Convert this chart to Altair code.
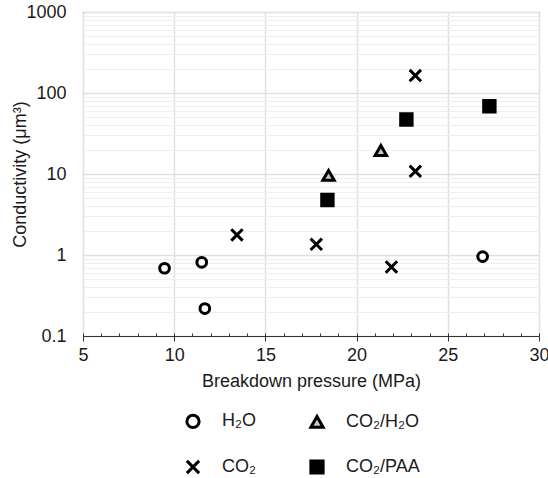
import altair as alt
import pandas as pd

# legend entries fill column by column: H₂O, CO₂ | CO₂/H₂O, CO₂/PAA
groups = ["H₂O", "CO₂", "CO₂/H₂O", "CO₂/PAA"]

h2o_x = [9.47, 11.51, 11.68, 26.91]
h2o_y = [0.686, 0.813, 0.218, 0.955]
co2_x = [13.44, 17.79, 21.91, 23.22, 23.22]
co2_y = [1.77, 1.355, 0.711, 164, 10.8]
co2h2o_x = [18.46, 21.33]
co2h2o_y = [9.6, 19.5]
paa_x = [18.4, 22.73, 27.28]
paa_y = [4.77, 47.1, 68.7]

rows = []
for g, xs, ys in [("H₂O", h2o_x, h2o_y), ("CO₂/H₂O", co2h2o_x, co2h2o_y),
                  ("CO₂", co2_x, co2_y), ("CO₂/PAA", paa_x, paa_y)]:
    for a, b in zip(xs, ys):
        rows.append({"p": a, "c": b, "g": g})
df = pd.DataFrame(rows)

x_major = [5, 10, 15, 20, 25, 30]
x_minor = list(range(5, 31))
y_major = [0.1, 1, 10, 100, 1000]
y_minor = [m * 10 ** e for e in (-1, 0, 1, 2) for m in range(2, 10)]

FONT = "Liberation Sans"
FS = 18
TXT = "#1a1a1a"
W, H = 456, 324

xscale = alt.Scale(domain=[5, 30], nice=False, zero=False)
yscale = alt.Scale(type="log", domain=[0.1, 1000], nice=False)

base = alt.Chart(df)

minor = base.mark_point(opacity=0).encode(
    x=alt.X("p:Q", scale=xscale, axis=alt.Axis(
        orient="top", offset=-H, values=x_minor, labels=False, ticks=True,
        tickSize=3, tickColor="#333", tickWidth=1, grid=False, domain=False, title=None)),
    y=alt.Y("c:Q", scale=yscale, axis=alt.Axis(
        orient="right", values=y_minor, labels=False, ticks=False, grid=True,
        gridColor="#efefef", gridWidth=1, domain=False, title=None)),
)

leg = alt.Legend(
    title=None, orient="none", legendX=101, legendY=400, columns=2,
    columnPadding=48, rowPadding=20, labelFont=FONT, labelFontSize=FS,
    labelColor=TXT, labelOffset=20, symbolSize=150, symbolStrokeWidth=3,
    symbolStrokeColor="black", padding=0)

pts = base.mark_point(opacity=1, strokeWidth=3).encode(
    x=alt.X("p:Q", scale=xscale, title="Breakdown pressure (MPa)", axis=alt.Axis(
        orient="bottom", values=x_major, grid=True, gridColor="#e0e0e0", gridWidth=1.5,
        ticks=True, tickSize=5, tickColor="#333", tickWidth=1,
        domain=True, domainColor="#333", labelFontSize=FS, labelColor=TXT,
        labelFont=FONT, labelPadding=5, titleFont=FONT, titleFontSize=FS,
        titleFontWeight="normal", titleColor=TXT, titlePadding=8, labelFlush=False)),
    y=alt.Y("c:Q", scale=yscale, title="Conductivity (μm³)", axis=alt.Axis(
        orient="left", values=y_major, grid=True, gridColor="#e0e0e0", gridWidth=1.5,
        ticks=False, domain=False, labelFontSize=FS, labelColor=TXT, labelFont=FONT,
        labelPadding=17, titleFont=FONT, titleFontSize=FS, titleFontWeight="normal",
        titleColor=TXT, titlePadding=-4, labelFlush=False,
        labelExpr="datum.value >= 1 ? format(datum.value, 'd') : format(datum.value, '.1f')")),
    shape=alt.Shape("g:N", sort=groups, scale=alt.Scale(domain=groups, range=[
        "circle", "M-1,-1L1,1M-1,1L1,-1", "triangle-up", "square"]), legend=leg),
    fill=alt.Fill("g:N", sort=groups, scale=alt.Scale(domain=groups, range=[
        "white", "transparent", "#c8c8c8", "black"]), legend=leg),
    stroke=alt.Stroke("g:N", sort=groups, scale=alt.Scale(domain=groups, range=[
        "black", "black", "black", "black"]), legend=leg),
    size=alt.condition("datum.g == 'H₂O'", alt.value(94), alt.value(130)),
)

chart = alt.layer(minor, pts).resolve_axis(x="independent", y="independent").properties(
    width=W, height=H,
    autosize=alt.AutoSizeParams(type="none"),
    padding={"left": 83, "top": 12, "right": 9, "bottom": 142},
    background="white",
).configure_view(stroke="black", strokeWidth=1)

chart.save("out.html", embed_options={"renderer": "svg", "actions": False})
